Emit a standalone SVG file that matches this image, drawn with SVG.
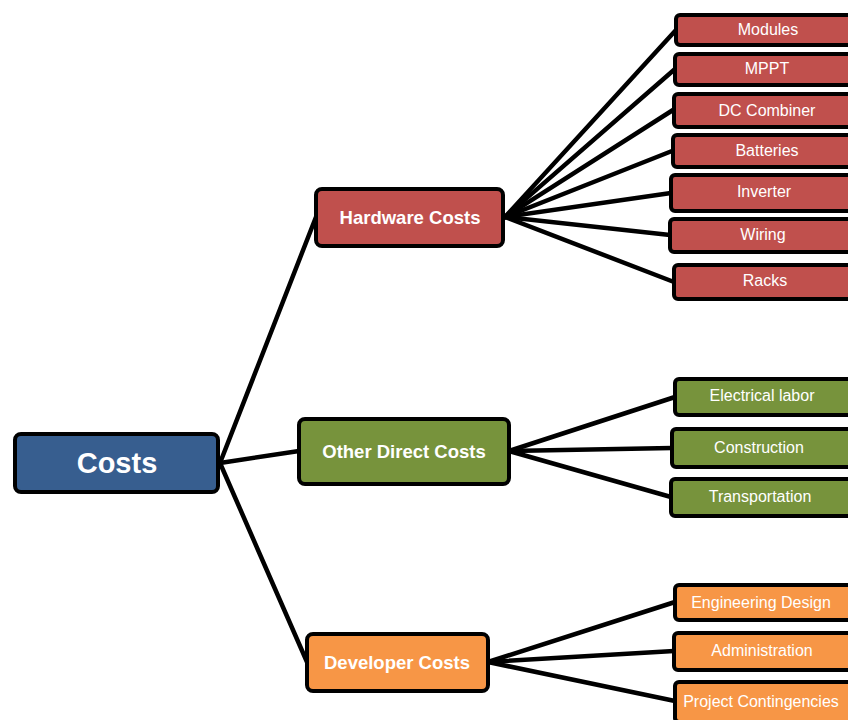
<svg xmlns="http://www.w3.org/2000/svg" width="848" height="720" viewBox="0 0 848 720">
  <style>
    .box { stroke: #000; stroke-width: 4; }
    .root { fill: #375E8F; }
    .hw { fill: #C0504D; }
    .od { fill: #77933C; }
    .dev { fill: #F79646; }
    .t-root { font-family: "Liberation Sans", Arial, sans-serif; font-weight: bold; font-size: 29px; fill: #fff; text-anchor: middle; dominant-baseline: central; }
    .t-mid { font-family: "Liberation Sans", Arial, sans-serif; font-weight: bold; font-size: 18.5px; fill: #fff; text-anchor: middle; dominant-baseline: central; }
    .t-leaf { font-family: "Liberation Sans", Arial, sans-serif; font-size: 16px; fill: #fff; text-anchor: middle; dominant-baseline: central; }
    .link { stroke: #000; stroke-width: 4.5; fill: none; stroke-linecap: round; }
  </style>

  <rect width="848" height="720" fill="#fff"/>

  <!-- connectors -->
  <g id="connectors">
    <line class="link" x1="220" y1="463" x2="316" y2="217"/>
    <line class="link" x1="220" y1="463" x2="299" y2="451"/>
    <line class="link" x1="220" y1="463" x2="307" y2="662"/>

    <line class="link" x1="505" y1="217" x2="676" y2="30"/>
    <line class="link" x1="505" y1="217" x2="675" y2="69"/>
    <line class="link" x1="505" y1="217" x2="673" y2="110"/>
    <line class="link" x1="505" y1="217" x2="672" y2="151"/>
    <line class="link" x1="505" y1="217" x2="671" y2="193"/>
    <line class="link" x1="505" y1="217" x2="670" y2="235"/>
    <line class="link" x1="505" y1="217" x2="674" y2="282"/>

    <line class="link" x1="509" y1="451" x2="675" y2="397"/>
    <line class="link" x1="509" y1="451" x2="672" y2="448"/>
    <line class="link" x1="509" y1="451" x2="671" y2="497"/>

    <line class="link" x1="488" y1="662" x2="675" y2="602"/>
    <line class="link" x1="488" y1="662" x2="674" y2="651"/>
    <line class="link" x1="488" y1="662" x2="675" y2="701"/>
  </g>

  <!-- root -->
  <g id="costs">
    <rect class="box root" x="15" y="434" width="203" height="58" rx="6"/>
    <text class="t-root" x="117" y="463">Costs</text>
  </g>

  <!-- second level -->
  <g id="hardware-costs">
    <rect class="box hw" x="316" y="189" width="187" height="57" rx="6"/>
    <text class="t-mid" x="410" y="217">Hardware Costs</text>
  </g>
  <g id="other-direct-costs">
    <rect class="box od" x="299" y="419" width="210" height="65" rx="6"/>
    <text class="t-mid" x="404" y="451">Other Direct Costs</text>
  </g>
  <g id="developer-costs">
    <rect class="box dev" x="307" y="634" width="181" height="57" rx="6"/>
    <text class="t-mid" x="397" y="662">Developer Costs</text>
  </g>

  <!-- hardware items -->
  <g id="modules">
    <rect class="box hw" x="676" y="15" width="200" height="30" rx="4"/>
    <text class="t-leaf" x="768" y="29">Modules</text>
  </g>
  <g id="mppt">
    <rect class="box hw" x="675" y="54" width="200" height="31" rx="4"/>
    <text class="t-leaf" x="767" y="68">MPPT</text>
  </g>
  <g id="dc-combiner">
    <rect class="box hw" x="674" y="94" width="200" height="33" rx="4"/>
    <text class="t-leaf" x="767" y="110">DC Combiner</text>
  </g>
  <g id="batteries">
    <rect class="box hw" x="673" y="135" width="200" height="32" rx="4"/>
    <text class="t-leaf" x="767" y="150">Batteries</text>
  </g>
  <g id="inverter">
    <rect class="box hw" x="671" y="175" width="200" height="36" rx="4"/>
    <text class="t-leaf" x="764" y="191">Inverter</text>
  </g>
  <g id="wiring">
    <rect class="box hw" x="670" y="219" width="200" height="33" rx="4"/>
    <text class="t-leaf" x="763" y="234">Wiring</text>
  </g>
  <g id="racks">
    <rect class="box hw" x="674" y="265" width="200" height="34" rx="4"/>
    <text class="t-leaf" x="765" y="280">Racks</text>
  </g>

  <!-- other direct items -->
  <g id="electrical-labor">
    <rect class="box od" x="675" y="379" width="200" height="36" rx="4"/>
    <text class="t-leaf" x="762" y="395">Electrical labor</text>
  </g>
  <g id="construction">
    <rect class="box od" x="672" y="429" width="200" height="38" rx="4"/>
    <text class="t-leaf" x="759" y="447">Construction</text>
  </g>
  <g id="transportation">
    <rect class="box od" x="671" y="479" width="200" height="37" rx="4"/>
    <text class="t-leaf" x="760" y="496">Transportation</text>
  </g>

  <!-- developer items -->
  <g id="engineering-design">
    <rect class="box dev" x="675" y="585" width="200" height="35" rx="4"/>
    <text class="t-leaf" x="761" y="602">Engineering Design</text>
  </g>
  <g id="administration">
    <rect class="box dev" x="674" y="633" width="200" height="37" rx="4"/>
    <text class="t-leaf" x="762" y="650">Administration</text>
  </g>
  <g id="project-contingencies">
    <rect class="box dev" x="675" y="682" width="200" height="40" rx="4"/>
    <text class="t-leaf" x="761" y="701">Project Contingencies</text>
  </g>
</svg>
